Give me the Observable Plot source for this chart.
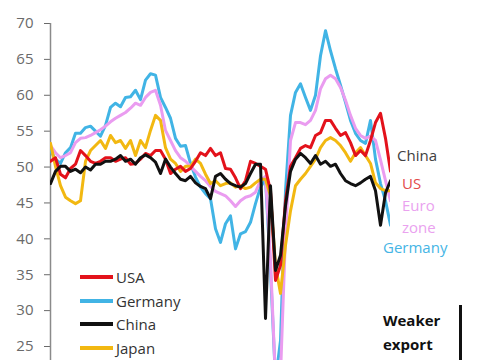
<!DOCTYPE html>
<html>
<head>
<meta charset="utf-8">
<script src="https://cdn.jsdelivr.net/npm/d3@7"></script>
<script src="https://cdn.jsdelivr.net/npm/@observablehq/plot@0.6"></script>
<style>
  html, body { margin: 0; padding: 0; background: #fff; }
  #wrap { position: relative; width: 485px; height: 360px; overflow: hidden; font-family: "Open Sans", sans-serif; }
  .lbl { position: absolute; white-space: nowrap; line-height: 1; transform: translateY(-50%); font-size: 15px; }
  .leg { position: absolute; height: 4px; width: 33px; transform: translateY(-50%); }
</style>
</head>
<body>
<div id="wrap"></div>
<script>
// Monthly new export orders PMI readings (index by month position)
const germany = [52.3,51.1,50.5,52.0,52.7,54.7,54.7,55.5,55.7,55.0,54.3,55.8,58.3,58.9,58.4,59.7,59.8,60.7,59.4,62.1,63.0,62.8,59.7,58.3,56.8,54.0,52.9,53.0,50.5,48.6,47.2,46.3,45.6,41.4,39.5,42.1,43.2,38.6,40.7,41.0,42.3,44.9,47.2,48.3,35.6,20.3,25.8,46.7,57.2,60.4,61.6,59.7,57.9,60.0,65.5,69.0,66.2,63.7,61.4,59.0,56.5,54.7,53.7,53.3,56.5,51.1,47.7,45.3,41.9];
const eurozone = [53.0,52.0,51.3,51.6,52.0,53.4,54.0,54.1,54.4,54.8,55.2,55.7,56.3,56.8,57.2,57.6,58.2,58.9,58.6,59.7,60.4,60.7,58.6,55.1,53.7,52.3,51.3,50.8,50.1,49.4,48.7,48.1,47.3,46.6,46.3,46.0,45.3,44.5,45.3,45.8,46.0,46.5,48.1,48.7,37.0,20.3,21.0,40.5,53.7,56.2,56.2,55.9,56.5,57.9,60.9,62.3,62.8,62.3,61.1,59.3,57.2,55.4,54.4,54.0,54.3,53.7,51.0,48.1,45.3];
const japan = [53.3,50.1,47.4,45.8,45.3,44.9,45.3,50.8,52.3,53.0,53.7,52.6,54.4,53.4,53.7,52.6,53.7,51.6,53.7,52.7,55.1,57.2,56.5,52.7,51.1,50.5,49.4,50.1,50.1,51.1,50.5,49.0,47.7,48.1,47.4,47.7,47.8,47.2,47.4,47.0,47.2,47.8,48.3,48.3,46.0,36.3,32.4,39.1,43.9,47.4,48.3,49.1,50.1,51.1,52.7,53.7,54.1,53.7,53.0,52.0,50.8,52.0,52.7,51.6,50.5,47.8,47.0,46.7,46.7];
const usa = [50.8,51.3,49.0,48.5,49.8,50.4,52.3,51.6,50.8,50.5,50.8,51.3,51.3,50.8,51.1,51.3,50.4,50.5,51.1,51.9,51.6,52.3,52.3,51.1,49.1,49.7,50.1,49.4,49.8,50.8,52.0,51.6,52.6,51.6,52.0,49.8,49.7,48.5,47.0,48.1,50.8,50.5,50.1,49.7,46.7,34.2,36.3,45.3,50.1,51.3,52.6,53.0,52.7,54.4,54.8,56.5,56.5,55.4,54.4,54.8,53.4,51.6,52.3,51.6,53.7,56.2,57.5,54.0,49.4];
const china = [47.7,49.4,50.1,50.1,49.4,49.7,49.2,50.0,49.6,50.4,50.4,50.8,50.8,51.1,51.6,50.8,51.1,50.4,51.3,51.7,51.3,50.7,49.1,51.1,50.0,49.1,48.3,48.1,48.7,47.8,47.3,47.0,45.6,48.7,49.1,48.3,47.7,47.4,47.2,47.7,49.1,50.4,50.4,28.9,47.4,35.6,37.7,44.6,49.4,51.1,51.9,51.3,50.5,51.6,50.4,50.8,50.1,50.4,49.1,48.1,47.7,47.4,47.8,48.3,48.7,46.7,41.9,46.4,48.1];

const seriesNames = ["Germany", "Euro zone", "Japan", "USA", "China"];
const seriesColors = ["#41b4e5", "#ea9cf0", "#f2b811", "#e3121b", "#111111"];
const seriesValues = [germany, eurozone, japan, usa, china];
const yTicks = [25, 30, 35, 40, 45, 50, 55, 60, 65, 70];

const legendNames = ["USA", "Germany", "China", "Japan"];
const legendColors = ["#e3121b", "#41b4e5", "#111111", "#f2b811"];

const rows = seriesValues.flatMap((vals, k) => vals.map((v, i) => ({i, v, name: seriesNames[k]})));

const chart = Plot.plot({
  width: 485,
  height: 360,
  marginLeft: 50,
  marginRight: 95,
  marginTop: 23,
  marginBottom: 0,
  style: {fontFamily: "Open Sans, sans-serif", fontSize: "15px", background: "#fff"},
  x: {domain: [0, germany.length - 1], axis: null},
  y: {domain: [23.05, 70], axis: null, label: null},
  color: {domain: seriesNames, range: seriesColors},
  marks: [
    Plot.axisY({ticks: yTicks, tickSize: 6, tickPadding: 11, fontSize: 15, color: "#6a6a6a", label: null, tickFormat: d => d}),
    Plot.ruleX([0], {stroke: "#8a8a8a", strokeWidth: 1.5}),
    Plot.line(rows, {x: "i", y: "v", z: "name", stroke: "name", strokeWidth: 3, strokeLinejoin: "round", clip: true})
  ]
});

const wrap = document.getElementById("wrap");
wrap.appendChild(chart);

function addLabel(text, left, top, color, extra) {
  const d = document.createElement("div");
  d.className = "lbl";
  d.textContent = text;
  d.style.left = left + "px";
  d.style.top = top + "px";
  d.style.color = color;
  if (extra) Object.assign(d.style, extra);
  wrap.appendChild(d);
}

// Legend (inside the plot area, lower left)
legendNames.forEach((n, k) => {
  const y = 277 + k * 23.5;
  const l = document.createElement("div");
  l.className = "leg";
  l.style.left = "80px";
  l.style.top = y + "px";
  l.style.background = legendColors[k];
  wrap.appendChild(l);
  addLabel(n, 116, y, "#333333");
});

// End-of-line labels
addLabel("China", 397, 155, "#404040");
addLabel("US", 402, 183, "#e34b4b");
addLabel("Euro", 402, 205, "#eaa2ef");
addLabel("zone", 402, 227, "#eaa2ef");
addLabel("Germany", 383, 247, "#45b5e5");

// Annotation
addLabel("Weaker", 383, 320, "#111", {fontWeight: "bold"});
addLabel("export", 383, 344, "#111", {fontWeight: "bold"});
addLabel("orders", 383, 368, "#111", {fontWeight: "bold"});
const bar = document.createElement("div");
bar.style.cssText = "position:absolute;left:459px;top:305px;width:3px;height:70px;background:#111;";
wrap.appendChild(bar);
</script>
</body>
</html>
